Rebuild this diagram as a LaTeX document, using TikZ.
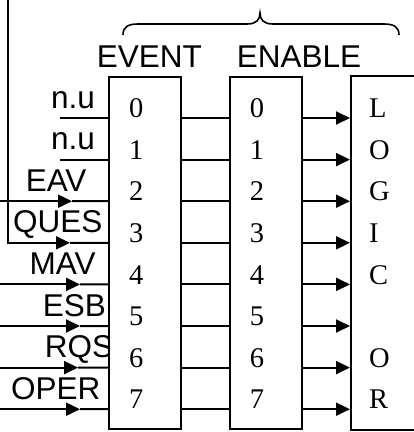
\documentclass[tikz,border=0pt]{standalone}
\usepackage{fontspec}
\setmainfont{Liberation Serif}
\newfontfamily\arialf{Liberation Sans}
\usetikzlibrary{arrows.meta}
\begin{document}
\begin{tikzpicture}[x=1pt,y=-1pt,
  box/.style={draw, line width=2pt, fill=white, inner sep=0pt, minimum width=72pt, minimum height=352pt},
  lbl/.style={inner sep=0pt, anchor=base west, font=\arialf\fontsize{31.5}{36}\selectfont},
  dig/.style={inner sep=0pt, anchor=base, font=\fontsize{28.5}{32}\selectfont},
  let/.style={inner sep=0pt, anchor=base west, font=\fontsize{28.5}{32}\selectfont},
  wire/.style={line width=2pt},
  arr/.style={line width=2pt, -{Triangle[length=14pt,width=13pt]}},
  bracestyle/.style={line width=1.6pt},
]
\clip (0,0) rectangle (414,432);
\fill[white] (0,0) rectangle (414,432);
% row coordinates
\foreach \i in {0,...,7} {
  \coordinate (r\i) at (0,{118+41.6*\i});
}
% input labels
\node[lbl] (l0) at (51,108) {n.u};
\node[lbl] (l1) at (51,149.6) {n.u};
\node[lbl] (l2) at (25.6,191.2) {EAV};
\node[lbl] (l3) at (13,232.8) {QUES};
\node[lbl] (l4) at (29.5,274.4) {MAV};
\node[lbl] (l5) at (42.6,316) {ESB};
\node[lbl] (l6) at (44.6,357.6) {RQS};
\node[lbl] (l7) at (11,399.2) {OPER};
% headers
\node[lbl] (hev) at (96.6,67) {EVENT};
\node[lbl] (hen) at (236.6,67) {ENABLE};
% boxes
\node[box] (ev) at (145,253) {};
\node[box] (en) at (266,253) {};
\node[box, minimum width=130pt, minimum height=354pt] (lg) at (416,253) {};
% brace
\draw[bracestyle] (123,35) .. controls (123,27) and (128,24) .. (138,24) -- (247,24)
  .. controls (256,24) and (260,20) .. (260,13)
  .. controls (260,20) and (264,24) .. (273,24) -- (384,24)
  .. controls (394,24) and (399,27) .. (399,35);
% inputs
\coordinate (s0) at (60,118);
\coordinate (s1) at (60,159.6);
\draw[wire] (s0) -- (ev.west |- r0);
\draw[wire] (s1) -- (ev.west |- r1);
\coordinate (s2) at (0,201.2);
\coordinate (t2) at (72,201.2);
\draw[arr] (s2) -- (t2);
\draw[wire] (t2) -- (ev.west |- r2);
\coordinate (s3) at (8,-3);
\coordinate (c3) at (8,242.8);
\coordinate (t3) at (70,242.8);
\draw[arr, line join=miter] (s3) -- (c3) -- (t3);
\draw[wire] (t3) -- (ev.west |- r3);
\coordinate (s4) at (0,284.4);
\coordinate (t4) at (80,284.4);
\draw[arr] (s4) -- (t4);
\draw[wire] (t4) -- (ev.west |- r4);
\coordinate (s5) at (0,326);
\coordinate (t5) at (80,326);
\draw[arr] (s5) -- (t5);
\draw[wire] (t5) -- (ev.west |- r5);
\coordinate (s6) at (0,367.6);
\coordinate (t6) at (78,367.6);
\draw[arr] (s6) -- (t6);
\draw[wire] (t6) -- (ev.west |- r6);
\coordinate (s7) at (0,409.2);
\coordinate (t7) at (80,409.2);
\draw[arr] (s7) -- (t7);
\draw[wire] (t7) -- (ev.west |- r7);
% connectors between boxes
\foreach \i in {0,...,7} {
  \draw[wire] (ev.east |- r\i) -- (en.west |- r\i);
  \draw[arr] (en.east |- r\i) -- (lg.west |- r\i);
  \node[dig] (evd\i) at ({136.3},{117.6+41.6*\i}) {\i};
  \node[dig] (end\i) at ({257},{117.6+41.6*\i}) {\i};
}
% logic letters
\node[let] (g0) at (369,117.6) {L};
\node[let] (g1) at (369,159.2) {O};
\node[let] (g2) at (369,200.8) {G};
\node[let] (g3) at (369,242.4) {I};
\node[let] (g4) at (369,284) {C};
\node[let] (g6) at (369,367.2) {O};
\node[let] (g7) at (369,408.8) {R};
\end{tikzpicture}
\end{document}
